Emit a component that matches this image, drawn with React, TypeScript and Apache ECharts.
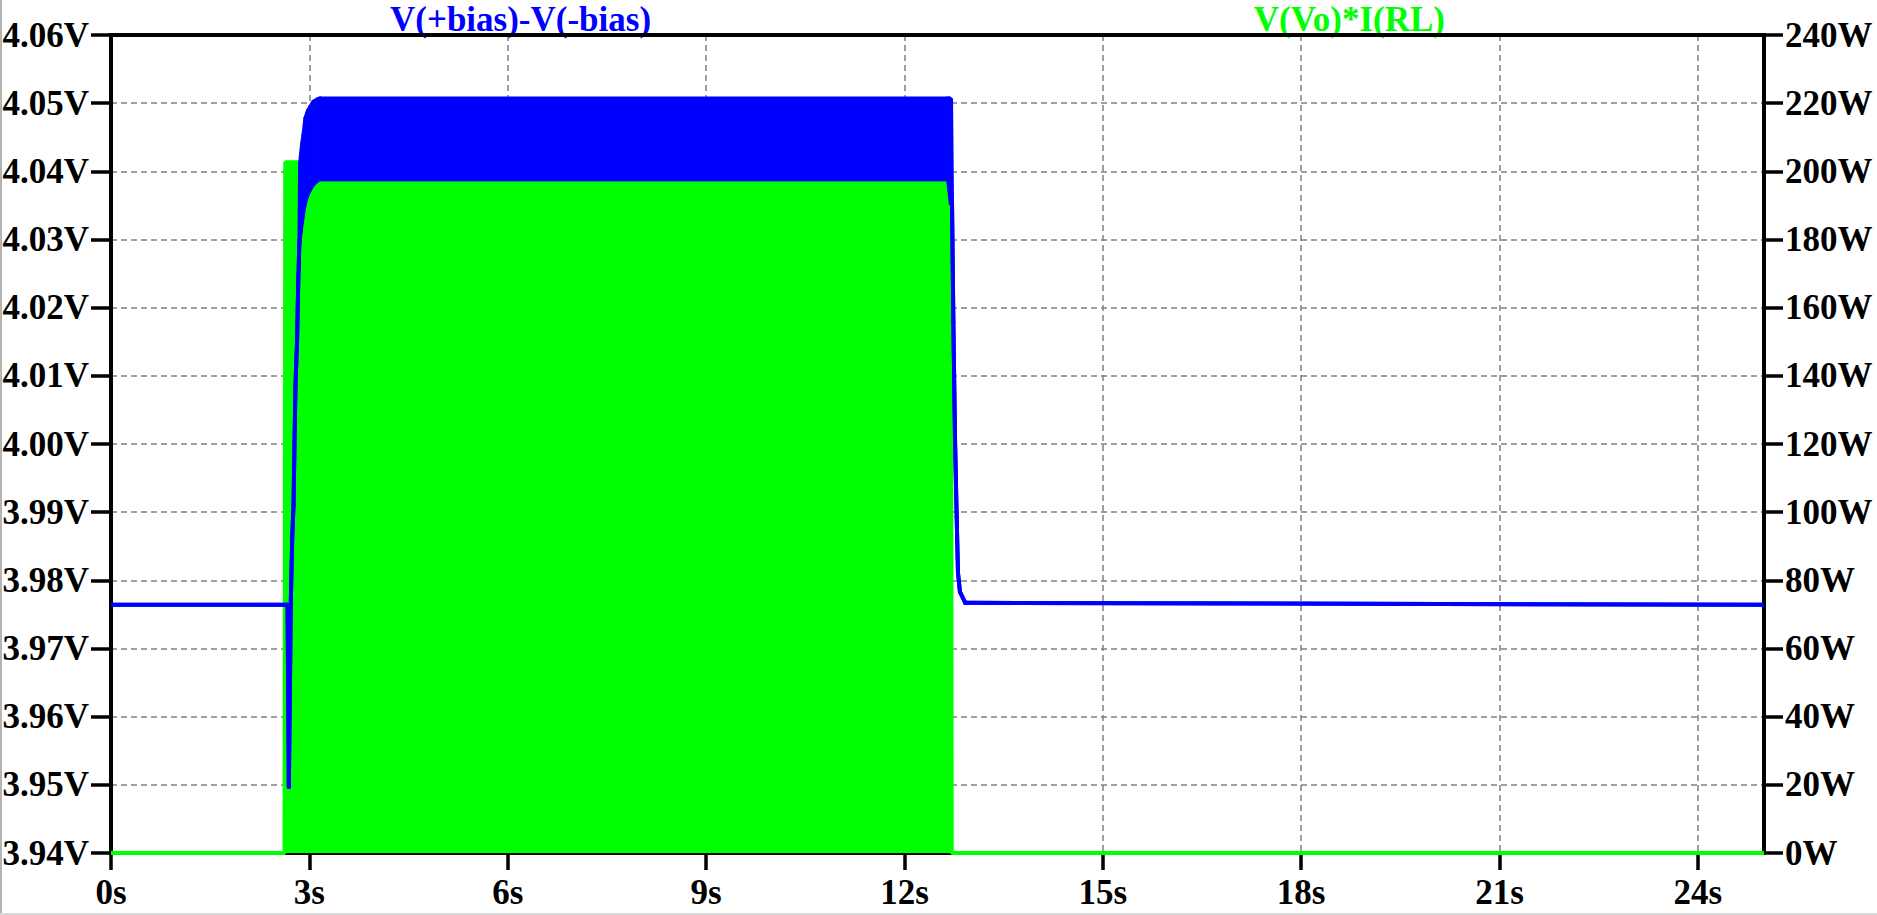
import { useEffect, useRef } from "react";
import * as echarts from "echarts";

// x axis tick positions (seconds)
const timeTicks = [0, 3, 6, 9, 12, 15, 18, 21, 24];

// V(+bias)-V(-bias): envelope of the fast oscillation (volts)
const biasTime = [
  0, 2.67, 2.69, 2.72, 2.74, 2.76, 2.79, 2.815, 2.83, 2.85, 2.86, 2.89, 2.91,
  2.94, 2.97, 2.98, 3.01, 3.06, 3.13, 3.16, 12.64, 12.68, 12.705, 12.72, 12.74,
  12.765, 12.79, 12.81, 12.84, 12.92, 25,
];
const biasHigh = [
  3.9764, 3.9764, 3.9497, 3.9771, 3.9859, 3.9911, 4.0087, 4.0153, 4.023,
  4.0299, 4.0412, 4.044, 4.0453, 4.0478, 4.0486, 4.0489, 4.0494, 4.0502, 4.0506,
  4.0507, 4.0507, 4.0507, 4.0505, 4.0351, 4.0179, 4.0007, 3.9893, 3.9811,
  3.9783, 3.9767, 3.9764,
];
const biasLow = [
  3.9764, 3.9764, 3.9497, 3.9771, 3.9859, 3.9911, 4.0087, 4.0153, 4.023,
  4.0299, 4.0285, 4.031, 4.0325, 4.0345, 4.0358, 4.0361, 4.0368, 4.0377, 4.0384,
  4.0386, 4.0386, 4.0351, 4.0351, 4.0351, 4.0179, 4.0007, 3.9893, 3.9811,
  3.9783, 3.9767, 3.9764,
];

// V(Vo)*I(RL): peak envelope of the load power (watts)
const powerTime = [
  0, 2.625, 2.635, 2.88, 2.89, 2.97, 3.01, 3.06, 3.13, 3.2, 12.63, 12.64,
  12.705, 12.715, 25,
];
const powerPeak = [
  0, 0, 202.7, 202.7, 182, 191.6, 193.6, 195.4, 196.9, 197.2, 197.2, 190, 190,
  0, 0,
];

const FONT = '"Liberation Serif", "Times New Roman", serif';
const BLUE = "#0000ff";
const GREEN = "#00ff00";

export default function App() {
  const ref = useRef<HTMLDivElement>(null);

  useEffect(() => {
    if (!ref.current) return;
    const chart = echarts.init(ref.current, null, { renderer: "svg" });

    const labelStyle = {
      color: "#000",
      fontFamily: FONT,
      fontWeight: "bold",
      fontSize: 35,
    };
    const axisLine = { show: true, lineStyle: { color: "#000", width: 4 } };
    const tickStyle = { color: "#000", width: 3.5 };
    const dashed = {
      show: true,
      lineStyle: { color: "#808080", width: 1.5, type: [6, 4] },
    };

    // band between low/high envelope, one quad per segment
    const renderBias = (params: any, api: any) => {
      const i = params.dataIndex;
      if (i >= biasTime.length - 1) return null;
      const h0 = api.coord([biasTime[i], biasHigh[i]]);
      const h1 = api.coord([biasTime[i + 1], biasHigh[i + 1]]);
      const l0 = api.coord([biasTime[i], biasLow[i]]);
      const l1 = api.coord([biasTime[i + 1], biasLow[i + 1]]);
      const stroke = {
        stroke: BLUE,
        lineWidth: 4,
        fill: null,
        lineCap: "round",
        lineJoin: "round",
      };
      const children: any[] = [
        {
          type: "polygon",
          shape: { points: [h0, h1, l1, l0] },
          style: { fill: BLUE, stroke: BLUE, lineWidth: 1 },
        },
        { type: "polyline", shape: { points: [h0, h1] }, style: stroke },
      ];
      const isLine =
        biasHigh[i] === biasLow[i] && biasHigh[i + 1] === biasLow[i + 1];
      if (isLine) {
        children.push({
          type: "polyline",
          shape: { points: [l0, l1] },
          style: stroke,
        });
      }
      return { type: "group", children };
    };

    chart.setOption({
      animation: false,
      backgroundColor: "#fff",
      grid: {
        left: 111,
        right: 113,
        top: 35,
        bottom: 62,
        outerBoundsMode: "none",
      },
      xAxis: {
        type: "value",
        min: 0,
        max: 25,
        interval: 3,
        axisLine: { show: true, lineStyle: { color: "#000", width: 3 } },
        axisTick: {
          show: true,
          length: 17,
          lineStyle: tickStyle,
          customValues: timeTicks,
        },
        axisLabel: {
          ...labelStyle,
          margin: 22,
          customValues: timeTicks,
          formatter: (v: number) => `${v}s`,
        },
        splitLine: dashed,
      },
      yAxis: [
        {
          type: "value",
          min: 3.94,
          max: 4.06,
          interval: 0.01,
          position: "left",
          axisLine,
          axisTick: { show: true, length: 20, lineStyle: tickStyle },
          axisLabel: {
            ...labelStyle,
            margin: 22,
            formatter: (v: number) => `${v.toFixed(2)}V`,
          },
          splitLine: dashed,
        },
        {
          type: "value",
          min: 0,
          max: 240,
          interval: 20,
          position: "right",
          axisLine,
          axisTick: { show: true, length: 19, lineStyle: tickStyle },
          axisLabel: {
            ...labelStyle,
            margin: 21,
            formatter: (v: number) => `${v}W`,
          },
          splitLine: { show: false },
        },
      ],
      graphic: [
        {
          type: "line",
          z: 100,
          shape: { x1: 109, y1: 35, x2: 1766, y2: 35 },
          style: { stroke: "#000", lineWidth: 4 },
        },
        {
          type: "text",
          x: 390,
          y: 19,
          style: {
            text: "V(+bias)-V(-bias)",
            fill: BLUE,
            font: `bold 35px ${FONT}`,
            align: "left",
            verticalAlign: "middle",
          },
        },
        {
          type: "text",
          x: 1445,
          y: 19,
          style: {
            text: "V(Vo)*I(RL)",
            fill: GREEN,
            font: `bold 35px ${FONT}`,
            align: "right",
            verticalAlign: "middle",
          },
        },
        {
          type: "line",
          shape: { x1: 1, y1: 0, x2: 1, y2: 914 },
          style: { stroke: "#b4b4b4", lineWidth: 2 },
        },
        {
          type: "line",
          shape: { x1: 0, y1: 914, x2: 1877, y2: 914 },
          style: { stroke: "#d8d8d8", lineWidth: 2 },
        },
      ],
      series: [
        {
          name: "V(Vo)*I(RL)",
          type: "line",
          yAxisIndex: 1,
          data: powerTime.map((t, i) => [t, powerPeak[i]]),
          symbol: "none",
          lineStyle: { color: GREEN, width: 4 },
          areaStyle: { color: GREEN, opacity: 1 },
          z: 2,
        },
        {
          name: "V(+bias)-V(-bias)",
          type: "custom",
          yAxisIndex: 0,
          clip: true,
          data: biasTime.map((t, i) => [t, biasLow[i], biasHigh[i]]),
          encode: { x: 0, y: [1, 2] },
          renderItem: renderBias,
          z: 3,
        },
      ],
    });

    return () => chart.dispose();
  }, []);

  return (
    <div
      ref={ref}
      style={{
        position: "absolute",
        left: 0,
        top: 0,
        width: 1877,
        height: 915,
        background: "#fff",
      }}
    />
  );
}
